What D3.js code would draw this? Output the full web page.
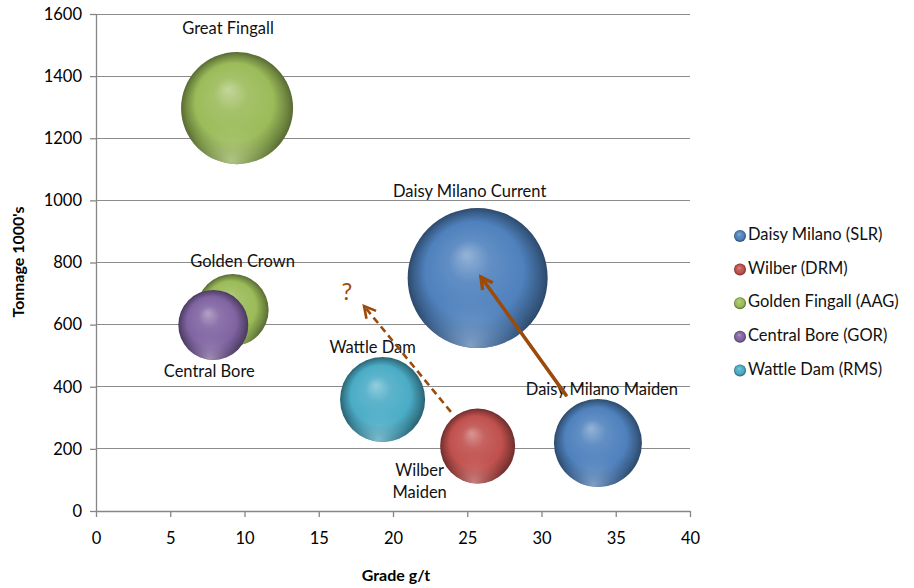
<!DOCTYPE html>
<html><head><meta charset="utf-8">
<script src="https://cdn.jsdelivr.net/npm/d3@7"></script>
<style>html,body{margin:0;padding:0;background:#fff;} svg{display:block;font-family:Lato,"Open Sans",sans-serif;}</style>
</head><body><svg id="c" width="914" height="588"></svg>
<script>
// ---- data ----
const seriesNames = ["Daisy Milano (SLR)", "Wilber (DRM)", "Golden Fingall (AAG)", "Central Bore (GOR)", "Wattle Dam (RMS)"];
const seriesColors = ["#4f81bd", "#c0504d", "#9bbb59", "#8064a2", "#4bacc6"];
const pointLabels = ["Daisy Milano Current", "Daisy Milano Maiden", "Wilber\nMaiden", "Great Fingall", "Golden Crown", "Central Bore", "Wattle Dam"];
const pointSeries = [0, 0, 1, 2, 2, 3, 4];
const grade = [25.7, 33.8, 25.7, 9.5, 9.2, 7.9, 19.3];
const tonnage = [750, 219, 209, 1297, 647, 599, 359];
const ounces = [620, 245, 178, 397, 164, 155, 229];
const xTicks = [0, 5, 10, 15, 20, 25, 30, 35, 40];
const yTicks = [0, 200, 400, 600, 800, 1000, 1200, 1400, 1600];
// arrows: [fromGrade, fromTonnage, toGrade, toTonnage]
const arrowSolid = [31.65, 373, 25.93, 753];
const arrowDashed = [23.9, 319, 18.05, 660];
const questionMark = [16.9, 702];

// ---- layout ----
const svg = d3.select("#c");
const L = 96, R = 690, T = 14, B = 511;
const x = d3.scaleLinear().domain([0, 40]).range([L, R]);
const y = d3.scaleLinear().domain([0, 1600]).range([B, T]);
const r = d3.scaleSqrt().domain([0, 620]).range([0, 70]);
const axisCol = "#868686", gridCol = "#8c8c8c", arrowCol = "#9c4a0a";
const fs = 16.5;

// gradients
const defs = svg.append("defs");
seriesColors.forEach((c, i) => {
  const base = d3.rgb(c);
  const g = defs.append("radialGradient").attr("id", "g" + i)
    .attr("cx", "0.5").attr("cy", "0.5").attr("r", "0.5").attr("fx", "0.42").attr("fy", "0.33");
  const light = d3.interpolateRgb(c, "#ffffff")(0.4);
  g.append("stop").attr("offset", "0").attr("stop-color", light);
  g.append("stop").attr("offset", "0.3").attr("stop-color", d3.interpolateRgb(c, "#ffffff")(0.1));
  g.append("stop").attr("offset", "0.7").attr("stop-color", c);
  g.append("stop").attr("offset", "0.9").attr("stop-color", base.darker(0.9));
  g.append("stop").attr("offset", "1").attr("stop-color", base.darker(1.6));
  const h = defs.append("radialGradient").attr("id", "h" + i)
    .attr("cx", "0.45").attr("cy", "0.98").attr("r", "0.45");
  h.append("stop").attr("offset", "0").attr("stop-color", d3.interpolateRgb(c, "#ffffff")(0.35)).attr("stop-opacity", 0.85);
  h.append("stop").attr("offset", "1").attr("stop-color", c).attr("stop-opacity", 0);
});

// gridlines
svg.append("g").selectAll("line").data(yTicks.filter(d => d > 0)).join("line")
  .attr("x1", L).attr("x2", R).attr("y1", d => y(d)).attr("y2", d => y(d))
  .attr("stroke", gridCol).attr("stroke-width", 1).attr("shape-rendering", "crispEdges");

// axes
const yAxis = svg.append("g").attr("transform", `translate(${L},0)`)
  .call(d3.axisLeft(y).tickValues(yTicks).tickFormat(d3.format("d")).tickSize(6).tickPadding(8).tickSizeOuter(0));
const xAxis = svg.append("g").attr("transform", `translate(0,${B})`)
  .call(d3.axisBottom(x).tickValues(xTicks).tickFormat(d3.format("d")).tickSize(6).tickPadding(15).tickSizeOuter(0));
[yAxis, xAxis].forEach(a => {
  a.select(".domain").attr("stroke", axisCol).attr("stroke-width", 1.3);
  a.selectAll(".tick line").attr("stroke", axisCol).attr("stroke-width", 1.3);
  a.selectAll(".tick text").attr("fill", "#000").attr("font-size", fs).attr("font-family", "Lato");
});

// axis titles
svg.append("text").attr("x", 396).attr("y", 577).attr("text-anchor", "middle").attr("dominant-baseline", "middle")
  .attr("font-weight", "bold").attr("font-size", 16).text("Grade g/t");
svg.append("text").attr("transform", "translate(20,262) rotate(-90)").attr("text-anchor", "middle").attr("dominant-baseline", "middle")
  .attr("font-weight", "bold").attr("font-size", 16).text("Tonnage 1000's");

// bubbles
const pts = grade.map((g, i) => ({ i, g, t: tonnage[i], s: pointSeries[i], oz: ounces[i], label: pointLabels[i] }));
const bub = svg.append("g").selectAll("g").data(pts).join("g")
  .attr("transform", d => `translate(${x(d.g)},${y(d.t)})`);
bub.append("circle").attr("r", d => r(d.oz)).attr("fill", d => `url(#g${d.s})`);
bub.append("circle").attr("r", d => r(d.oz)).attr("fill", d => `url(#h${d.s})`);

// point labels (offsets from bubble centres)
const labelOffsets = [[-8, -85], [4, -52], [-58, 26], [-9, -78], [10, -47], [-4, 48], [-10, -51]];
const lab = svg.append("g").selectAll("text").data(pts).join("text")
  .attr("text-anchor", "middle").attr("font-size", fs).attr("fill", "#111");
lab.each(function (d) {
  const lines = d.label.split("\n");
  const o = labelOffsets[d.i];
  lines.forEach((ln, k) => {
    d3.select(this).append("tspan").attr("x", x(d.g) + o[0]).attr("y", y(d.t) + o[1] + k * 22)
      .attr("dominant-baseline", "middle").text(ln);
  });
});

// arrows
function arrow(a, dashed, width) {
  const x1 = x(a[0]), y1 = y(a[1]), x2 = x(a[2]), y2 = y(a[3]);
  const g = svg.append("g").attr("stroke", arrowCol).attr("fill", "none").attr("stroke-width", width).attr("stroke-linecap", dashed ? "butt" : "round");
  g.append("line").attr("x1", x1).attr("y1", y1).attr("x2", x2).attr("y2", y2)
    .attr("stroke-dasharray", dashed ? "7,4.5" : null);
  const ang = Math.atan2(y1 - y2, x1 - x2), len = 13, spread = 0.5;
  const p = [[x2 + len * Math.cos(ang + spread), y2 + len * Math.sin(ang + spread)], [x2, y2],
             [x2 + len * Math.cos(ang - spread), y2 + len * Math.sin(ang - spread)]];
  g.append("polyline").attr("points", p.map(q => q.join(",")).join(" ")).attr("stroke-linejoin", "miter").attr("stroke-linecap", "butt");
}
arrow(arrowSolid, false, 3.5);
arrow(arrowDashed, true, 2.6);
svg.append("text").attr("x", x(questionMark[0])).attr("y", y(questionMark[1]) + 1).attr("text-anchor", "middle")
  .attr("dominant-baseline", "middle").attr("font-size", 24).attr("fill", arrowCol).text("?");

// legend
const leg = svg.append("g").selectAll("g").data(seriesNames).join("g")
  .attr("transform", (d, i) => `translate(740,${236 + i * 33.6})`);
leg.append("circle").attr("r", 6).attr("fill", (d, i) => `url(#g${i})`);
leg.append("text").attr("x", 8).attr("dominant-baseline", "middle").attr("font-size", fs).attr("fill", "#111").text(d => d);
</script></body></html>
